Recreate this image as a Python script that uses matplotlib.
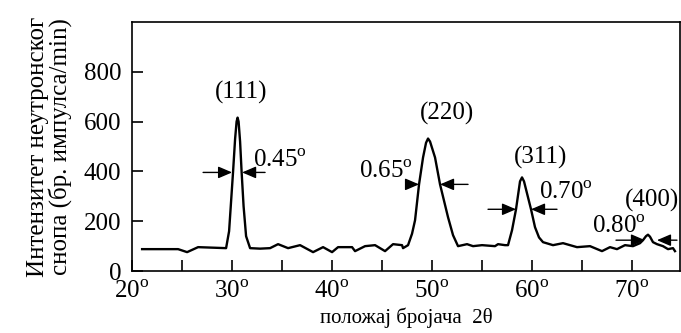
import matplotlib
matplotlib.use("Agg")
import matplotlib.pyplot as plt

plt.rcParams['font.family'] = ['Liberation Serif', 'DejaVu Serif']
plt.rcParams['mathtext.fontset'] = 'custom'
plt.rcParams['mathtext.rm'] = 'Liberation Serif'

# neutron diffraction scan (2theta in degrees, counts/min)
two_theta = [21.0, 24.6, 25.5, 26.6, 29.4, 29.7, 29.9, 30.1, 30.3, 30.45, 30.55,
             30.65, 30.8, 30.95, 31.15, 31.4, 31.8, 32.8, 33.8, 34.6, 35.6, 36.8,
             38.1, 39.1, 40.0, 40.6, 42.0, 42.3, 43.3, 44.3, 45.3, 46.1, 47.0,
             47.1, 47.6, 48.0, 48.3, 48.7, 49.1, 49.4, 49.6, 49.8, 50.3, 50.8,
             51.6, 52.1, 52.6, 53.5, 54.1, 55.0, 56.3, 56.6, 57.3, 57.6, 58.0,
             58.4, 58.8, 59.0, 59.2, 59.9, 60.3, 60.7, 61.1, 62.1, 63.1, 64.5,
             65.8, 67.0, 67.8, 68.5, 69.3, 70.1, 70.8, 71.1, 71.4, 71.6, 71.8,
             72.1, 72.5, 73.1, 73.6, 74.1, 74.3]
intensity = [88, 88, 76, 96, 92, 160, 280, 400, 530, 600, 616,
             600, 520, 400, 260, 140, 92, 90, 92, 108, 92, 104,
             76, 96, 76, 96, 96, 80, 100, 104, 80, 108, 104,
             92, 104, 150, 204, 348, 456, 515, 532, 520, 456, 348,
             216, 144, 100, 108, 100, 104, 100, 108, 104, 104, 164,
             248, 360, 376, 360, 248, 176, 135, 116, 104, 112, 96,
             100, 80, 96, 88, 104, 100, 112, 124, 140, 146, 138,
             116, 108, 100, 88, 92, 80]

peak_names = ["(111)", "(220)", "(311)", "(400)"]
peak_label_x = [30.9, 51.5, 60.9, 72.0]
peak_label_y = [716, 632, 456, 284]

widths = ["0.45", "0.65", "0.70", "0.80"]
width_text_x = [32.1, 42.7, 60.7, 66.0]
width_text_y = [444, 400, 312, 176]
# arrows: outer-left, left head, right head, outer-right, height
arrow_l0 = [27.1, 47.8, 55.6, 68.4]
arrow_l1 = [30.0, 48.7, 58.4, 71.3]
arrow_r1 = [31.0, 50.8, 59.9, 72.5]
arrow_r0 = [33.3, 53.6, 62.5, 74.5]
arrow_y = [396, 348, 248, 124]

fig = plt.figure(figsize=(6.81, 3.33), dpi=100)
ax = fig.add_axes([0.194, 0.186, 0.8045, 0.748])
ax.plot(two_theta, intensity, color="black", lw=1.7)

ax.set_xlim(20, 74.8)
ax.set_ylim(0, 1000)
ax.set_xticks([20, 30, 40, 50, 60, 70])
ax.set_xticks([25, 35, 45, 55, 65], minor=True)
ax.set_xticklabels([f"{v}$^{{\\rm o}}$" for v in [20, 30, 40, 50, 60, 70]])
ax.set_yticks([0, 200, 400, 600, 800])
ax.tick_params(axis="both", which="both", direction="in", length=8, width=1.2,
               labelsize=18)
ax.tick_params(axis="x", which="both", pad=7)
ax.tick_params(axis="y", pad=8)
for s in ax.spines.values():
    s.set_linewidth(1.2)

for name, x, y in zip(peak_names, peak_label_x, peak_label_y):
    ax.text(x, y, name, fontsize=18, ha="center", va="center")

for w, x, y in zip(widths, width_text_x, width_text_y):
    ax.text(x, y, w + "$^{\\rm o}$", fontsize=18, ha="left", va="center")

arrow_style = dict(arrowstyle="-|>,head_length=0.7,head_width=0.3", color="black",
                   lw=1.0, mutation_scale=12, shrinkA=0, shrinkB=0)
for a0, a1, b1, b0, y in zip(arrow_l0, arrow_l1, arrow_r1, arrow_r0, arrow_y):
    ax.annotate("", xy=(a1, y), xytext=(a0, y), arrowprops=arrow_style)
    ax.annotate("", xy=(b1, y), xytext=(b0, y), arrowprops=arrow_style)

ax.set_xlabel("положај бројача  2θ", fontsize=15)
ax.xaxis.set_label_coords(0.5, -0.145)
ax.set_ylabel("Интензитет неутронског\nснопа (бр. импулса/min)", fontsize=18,
              labelpad=8, linespacing=0.95)

fig.savefig("out.png", dpi=100)
